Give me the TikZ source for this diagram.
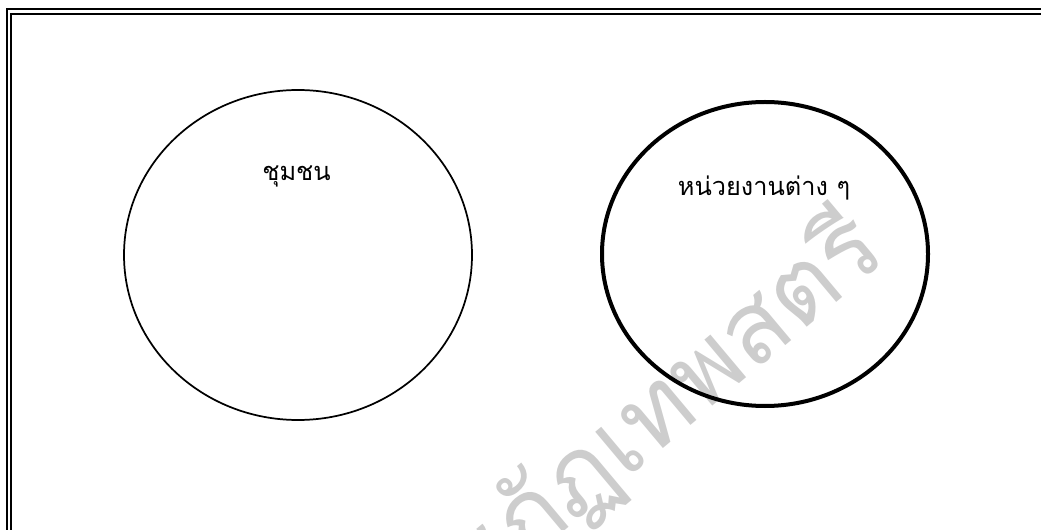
\documentclass[tikz,border=0pt]{standalone}
\usepackage{fontspec}
\newfontfamily\thaifont[Script=Thai]{Loma}
\usetikzlibrary{shapes.geometric}
\usepackage{xcolor}
\definecolor{wmgray}{RGB}{205,205,205}

\begin{document}
\begin{tikzpicture}[x=0.75pt,y=-0.75pt,
  group/.style={ellipse,draw,inner sep=0pt},
  lbl/.style={font=\thaifont\fontsize{19}{24}\selectfont,inner sep=0pt},
  wmark/.style={font=\thaifont\fontsize{75}{80}\selectfont,text=wmgray,inner sep=0pt},
  frame/.style={draw,line width=1.5pt}
]
\useasboundingbox (0,0) rectangle (1041,530);
\clip (0,0) rectangle (1041,530);
\node[wmark,rotate=40,anchor=base east] (wm) at (890,258) {มหาวิทยาลัยราชภัฏเทพสตรี};
\draw[frame] (7,9.5) rectangle (1060,560);
\draw[frame] (11,14) rectangle (1056,556);
\node[group,line width=1.3pt,minimum width=261pt,minimum height=247.5pt] (comm) at (298,255) {};
\node[group,line width=3pt,minimum width=244.5pt,minimum height=228pt] (agency) at (765,254) {};
\node[lbl] (commlbl) at (296.5,176) {ชุมชน};
\node[lbl] (agencylbl) at (764,188) {หน่วยงานต่าง ๆ};
\end{tikzpicture}
\end{document}
